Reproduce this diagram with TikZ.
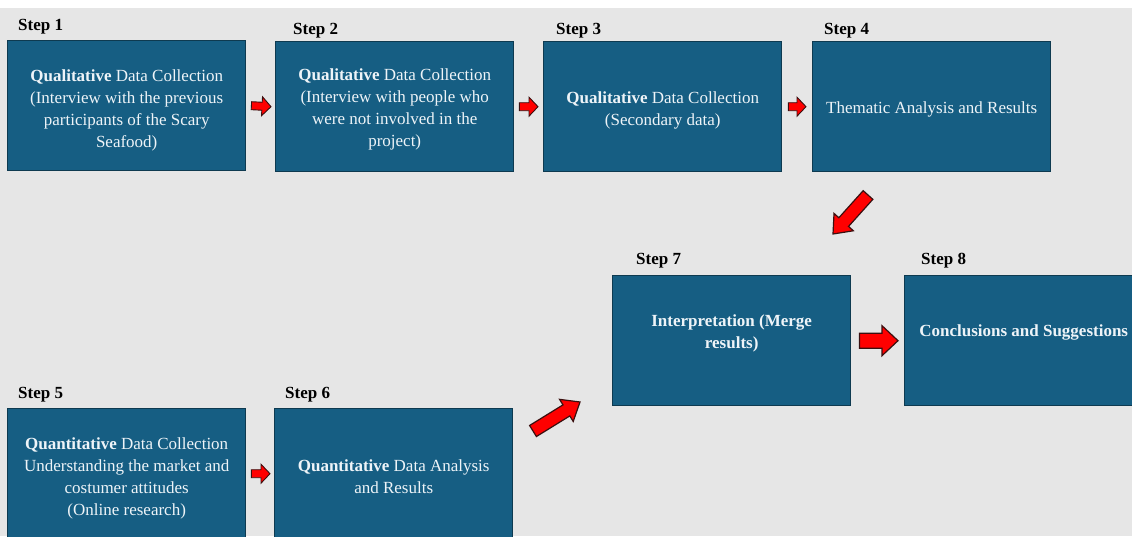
\documentclass[tikz,border=0pt]{standalone}
\usepackage{fontspec}
\setmainfont{Liberation Serif}
\usetikzlibrary{calc}
\definecolor{bg}{HTML}{E6E6E6}
\definecolor{boxfill}{HTML}{165E83}
\definecolor{boxline}{HTML}{0E3A50}
\definecolor{boxtext}{HTML}{EEF4F8}
\definecolor{arrred}{HTML}{FF0000}
\definecolor{arrline}{HTML}{3A1010}
% block arrow from coordinate #1 (tail) to #2 (tip); shaft width #3, head width #4, head length #5, line width #6
\newcommand\blockarrow[6]{%
  \coordinate (#1h) at ($(#2)!#5!(#1)$);
  \filldraw[draw=arrline, fill=arrred, line width=#6, line join=miter]
    ($(#1)!#3/2!90:(#2)$) -- ($(#1h)!#3/2!-90:(#1)$) -- ($(#1h)!#4/2!-90:(#1)$)
    -- (#2) -- ($(#1h)!#4/2!90:(#1)$) -- ($(#1h)!#3/2!90:(#1)$)
    -- ($(#1)!#3/2!-90:(#2)$) -- cycle;
}
\begin{document}
\begin{tikzpicture}[x=1pt,y=-1pt,
  stepbox/.style={draw=boxline, line width=1.4pt, fill=boxfill, minimum width=238pt, minimum height=130pt, inner sep=0pt, anchor=north west},
  boxtxt/.style={text=boxtext, align=center, font=\fontsize{17}{22}\selectfont, inner sep=0pt},
  steplbl/.style={anchor=west, inner sep=0pt, font=\fontsize{17}{20}\selectfont\bfseries}
]
\useasboundingbox (0,0) rectangle (1132,536);
\clip (0,0) rectangle (1132,536);
\fill[white] (0,0) rectangle (1132,536);
\fill[bg] (0,8) rectangle (1132,536);

% boxes
\node (b1) [stepbox] at (7,40) {};
\node (b2) [stepbox] at (275,41) {};
\node (b3) [stepbox] at (543,41) {};
\node (b4) [stepbox] at (812,41) {};
\node (b5) [stepbox] at (7,408) {};
\node (b6) [stepbox] at (274,408) {};
\node (b7) [stepbox] at (612,275) {};
\node (b8) [stepbox] at (904,275) {};

% step labels
\node (s1) [steplbl] at (18,27) {Step 1};
\node (s2) [steplbl] at (293,31) {Step 2};
\node (s3) [steplbl] at (556,31) {Step 3};
\node (s4) [steplbl] at (824,31) {Step 4};
\node (s5) [steplbl] at (18,395) {Step 5};
\node (s6) [steplbl] at (285,395) {Step 6};
\node (s7) [steplbl] at (636,261) {Step 7};
\node (s8) [steplbl] at (921,261) {Step 8};

% texts
\node (t1) [boxtxt] at ($(b1.center)+(0,5)$) {\textbf{Qualitative} Data Collection\\(Interview with the previous\\participants of the Scary\\Seafood)};
\node (t2) [boxtxt] at ($(b2.center)+(0,3)$) {\textbf{Qualitative} Data Collection\\(Interview with people who\\were not involved in the\\project)};
\node (t3) [boxtxt] at ($(b3.center)+(0,4)$) {\textbf{Qualitative} Data Collection\\(Secondary data)};
\node (t4) [boxtxt] at ($(b4.center)+(0,3)$) {Thematic Analysis and Results};
\node (t5) [boxtxt] at ($(b5.center)+(0,5)$) {\textbf{Quantitative} Data Collection\\Understanding the market and\\costumer attitudes\\(Online research)};
\node (t6) [boxtxt] at ($(b6.center)+(0,3)$) {\textbf{Quantitative} Data Analysis\\and Results};
\node (t7) [boxtxt, font=\fontsize{17}{22}\selectfont\bfseries] at ($(b7.center)+(0,-7)$) {Interpretation (Merge\\results)};
\node (t8) [boxtxt, font=\fontsize{17}{22}\selectfont\bfseries] at ($(b8.center)+(0,-8)$) {Conclusions and Suggestions};

% arrow end points
\coordinate (a12) at ($(b1.east)+(5,0)$);  \coordinate (a12t) at ($(b2.west)+(-4,0)$);
\coordinate (a23) at ($(b2.east)+(5,0)$);  \coordinate (a23t) at ($(b3.west)+(-5,0)$);
\coordinate (a34) at ($(b3.east)+(6,0)$);  \coordinate (a34t) at ($(b4.west)+(-6,0)$);
\coordinate (a56) at ($(b5.east)+(5,0)$);  \coordinate (a56t) at ($(b6.west)+(-4,0)$);
\coordinate (a78) at ($(b7.east)+(8,0)$);  \coordinate (a78t) at ($(b8.west)+(-6,0)$);
\coordinate (a47) at (868,195);  \coordinate (a47t) at (833,234);
\coordinate (a67) at (533,431);  \coordinate (a67t) at (580,402);

\blockarrow{a12}{a12t}{8pt}{19pt}{9pt}{0.9pt}
\blockarrow{a23}{a23t}{8pt}{19pt}{9pt}{0.9pt}
\blockarrow{a34}{a34t}{8pt}{19pt}{9pt}{0.9pt}
\blockarrow{a56}{a56t}{8pt}{19pt}{9pt}{0.9pt}
\blockarrow{a78}{a78t}{15pt}{30pt}{16pt}{1.2pt}
\blockarrow{a47}{a47t}{13pt}{26pt}{16pt}{1.2pt}
\blockarrow{a67}{a67t}{13pt}{26pt}{16pt}{1.2pt}
\end{tikzpicture}
\end{document}
